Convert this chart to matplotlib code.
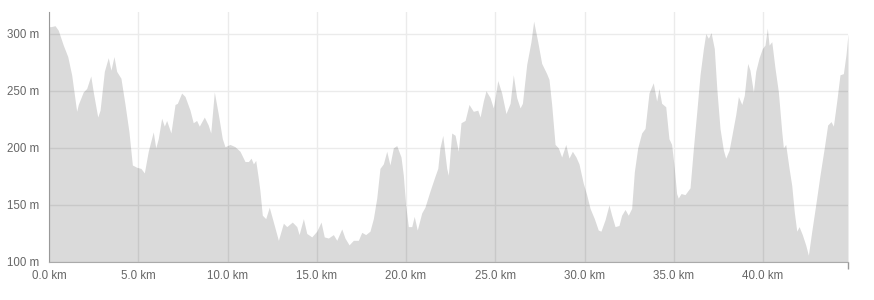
import matplotlib.pyplot as plt

# Elevation profile
distance_km = [
    0.00, 0.06, 0.34, 0.52, 0.80, 1.05, 1.27, 1.55, 1.64, 1.92, 2.11, 2.34, 2.48,
    2.73, 2.86, 3.10, 3.32, 3.47, 3.64, 3.79, 4.03, 4.26, 4.48, 4.67, 4.91, 5.15,
    5.34, 5.56, 5.84, 5.98, 6.12, 6.31, 6.46, 6.59, 6.83, 7.06, 7.19, 7.43, 7.62,
    7.90, 8.08, 8.27, 8.42, 8.70, 8.92, 9.06, 9.26, 9.48, 9.71, 9.86, 10.14, 10.42,
    10.70, 10.98, 11.17, 11.32, 11.45, 11.58, 11.73, 11.82, 11.95, 12.14, 12.34,
    12.57, 12.85, 13.13, 13.32, 13.63, 13.88, 14.01, 14.25, 14.44, 14.72, 15.00,
    15.24, 15.42, 15.65, 15.93, 16.12, 16.40, 16.58, 16.81, 17.05, 17.33, 17.52,
    17.74, 17.98, 18.17, 18.36, 18.54, 18.73, 18.92, 19.10, 19.29, 19.48, 19.72,
    19.85, 19.98, 20.13, 20.32, 20.46, 20.63, 20.88, 21.06, 21.34, 21.62, 21.78,
    21.90, 22.06, 22.28, 22.37, 22.56, 22.75, 22.93, 23.08, 23.31, 23.53, 23.77,
    24.02, 24.15, 24.33, 24.48, 24.71, 24.89, 24.99, 25.14, 25.36, 25.60, 25.83,
    26.01, 26.20, 26.39, 26.52, 26.76, 27.00, 27.15, 27.38, 27.60, 27.88, 28.01,
    28.16, 28.35, 28.53, 28.72, 28.95, 29.13, 29.32, 29.52, 29.69, 29.93, 30.12,
    30.31, 30.55, 30.77, 30.92, 31.15, 31.37, 31.52, 31.71, 31.93, 32.08, 32.27,
    32.45, 32.64, 32.79, 32.98, 33.20, 33.39, 33.61, 33.85, 34.04, 34.17, 34.32,
    34.55, 34.73, 34.88, 35.03, 35.16, 35.25, 35.41, 35.63, 35.91, 36.10, 36.29,
    36.47, 36.66, 36.79, 36.94, 37.09, 37.27, 37.41, 37.59, 37.78, 37.91, 38.10,
    38.28, 38.47, 38.62, 38.81, 38.95, 39.14, 39.27, 39.46, 39.59, 39.78, 39.96,
    40.11, 40.24, 40.34, 40.49, 40.67, 40.86, 41.05, 41.14, 41.27, 41.46, 41.61,
    41.75, 41.89, 42.02, 42.20, 42.39, 42.54, 42.73, 42.95, 43.19, 43.43, 43.62,
    43.81, 43.94, 44.13, 44.31, 44.50, 44.65, 44.76,
]
elevation_m = [
    307, 306, 307, 303, 290, 280, 264, 232, 238, 249, 252, 263, 249,
    227, 233, 267, 279, 268, 280, 267, 261, 238, 214, 185, 183, 182,
    178, 197, 214, 200, 208, 226, 219, 224, 213, 238, 239, 248, 245,
    233, 222, 224, 219, 227, 220, 213, 249, 230, 208, 201, 203, 201,
    197, 188, 188, 191, 186, 189, 173, 162, 141, 138, 148,
    135, 119, 134, 131, 135, 131, 124, 138, 125, 122, 127,
    135, 122, 121, 124, 119, 129, 121, 115, 119, 119, 126,
    124, 127, 138, 156, 182, 186, 197, 185, 200, 202, 192,
    176, 150, 131, 131, 140, 128, 143, 148, 162, 175, 182,
    200, 211, 182, 176, 213, 211, 197, 222, 224, 238, 232,
    233, 227, 241, 250, 244, 235, 244, 259, 248, 230, 239,
    264, 244, 235, 239, 273, 293, 311, 293, 274, 265, 260,
    238, 203, 200, 192, 203, 191, 197, 192, 186, 169, 159,
    147, 138, 128, 127, 137, 150, 141, 131, 132, 141, 146,
    141, 147, 179, 200, 213, 217, 248, 257, 241, 252, 239,
    236, 208, 203, 182, 160, 156, 160, 159, 165, 200, 232,
    264, 287, 300, 296, 301, 287, 252, 217, 198, 191, 198,
    213, 229, 245, 238, 246, 274, 268, 249, 267, 279, 287,
    290, 305, 290, 293, 270, 249, 214, 200, 203, 182, 167,
    144, 127, 131, 124, 115, 106, 127, 150, 176, 200, 220,
    223, 219, 241, 264, 265, 282, 300,
]

x_ticks = [0, 5, 10, 15, 20, 25, 30, 35, 40]
y_ticks = [100, 150, 200, 250, 300]

plt.rcParams['font.family'] = ['Liberation Sans', 'DejaVu Sans']

fig = plt.figure(figsize=(8.74, 3.0), dpi=100)
ax = fig.add_axes([49 / 874, 1 - 262 / 300, 799 / 874, 250 / 300])

ax.fill_between(distance_km, elevation_m, 100, color='black', alpha=0.145,
                linewidth=0)

ax.set_xlim(0, distance_km[-1])
ax.set_ylim(100, 319)

ax.set_xticks(x_ticks)
ax.set_xticklabels(['%.1f km' % t for t in x_ticks])
ax.set_yticks(y_ticks)
ax.set_yticklabels(['%d m' % t for t in y_ticks])

# small tick marks only at the corners, like the original
ax.set_xticks([0, distance_km[-1]], minor=True)
ax.set_yticks([100], minor=True)
ax.tick_params(which='major', length=0, labelsize=8.3, labelcolor='#666666')
ax.tick_params(axis='x', which='major', pad=6)
ax.tick_params(axis='y', which='major', pad=7)
ax.tick_params(which='minor', length=5, color='#999999', width=1)

ax.set_axisbelow(True)
ax.grid(True, color='#ebebeb', linewidth=1)

for side in ['top', 'right']:
    ax.spines[side].set_visible(False)
ax.spines['left'].set_color('#999999')
ax.spines['bottom'].set_color('#aaaaaa')

plt.savefig('out.png', dpi=100)
